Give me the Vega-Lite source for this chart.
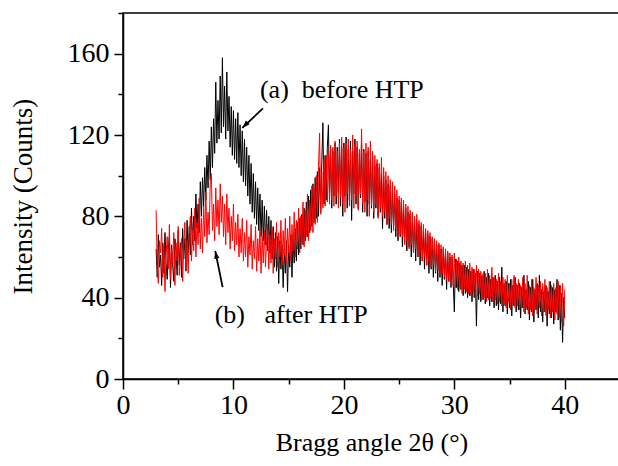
{
  "$schema": "https://vega.github.io/schema/vega-lite/v6.json",
  "width": 497,
  "height": 366,
  "autosize": {"type": "none"},
  "padding": {"left": 123, "top": 13, "right": 0, "bottom": 87},
  "background": "white",
  "config": {
    "view": {"stroke": "black", "strokeWidth": 1.5},
    "font": "Liberation Serif",
    "axis": {
      "grid": false,
      "domainColor": "black",
      "domainWidth": 1.5,
      "tickColor": "black",
      "tickWidth": 1.5,
      "labelFont": "Liberation Serif",
      "labelFontSize": 28,
      "labelColor": "black",
      "titleFont": "Liberation Serif",
      "titleFontSize": 26,
      "titleFontWeight": "normal",
      "titleColor": "black",
      "labelOverlap": false,
      "labelFlush": false
    }
  },
  "datasets": {
    "xrd": [
      {"x":3.0,"a":64,"b":83},{"x":3.1,"a":50,"b":55},{"x":3.2,"a":71,"b":47},{"x":3.3,"a":55,"b":68},{"x":3.4,"a":61,"b":62},{"x":3.5,"a":46,"b":74},{"x":3.6,"a":67,"b":50},{"x":3.7,"a":52,"b":66},{"x":3.8,"a":72,"b":43},{"x":3.9,"a":57,"b":61},
      {"x":4.0,"a":49,"b":70},{"x":4.1,"a":64,"b":54},{"x":4.2,"a":70,"b":76},{"x":4.3,"a":45,"b":49},{"x":4.4,"a":66,"b":64},{"x":4.5,"a":56,"b":57},{"x":4.6,"a":48,"b":72},{"x":4.7,"a":69,"b":46},{"x":4.8,"a":63,"b":67},{"x":4.9,"a":51,"b":58},
      {"x":5.0,"a":73,"b":75},{"x":5.1,"a":56,"b":51},{"x":5.2,"a":67,"b":63},{"x":5.3,"a":50,"b":69},{"x":5.4,"a":74,"b":48},{"x":5.5,"a":59,"b":65},{"x":5.6,"a":69,"b":77},{"x":5.7,"a":53,"b":54},{"x":5.8,"a":78,"b":68},{"x":5.9,"a":62,"b":52},
      {"x":6.0,"a":75,"b":71},{"x":6.1,"a":61,"b":80},{"x":6.2,"a":84,"b":58},{"x":6.3,"a":66,"b":73},{"x":6.4,"a":80,"b":63},{"x":6.5,"a":68,"b":84},{"x":6.6,"a":91,"b":60},{"x":6.7,"a":74,"b":77},{"x":6.8,"a":86,"b":66},{"x":6.9,"a":72,"b":89},
      {"x":7.0,"a":97,"b":64},{"x":7.1,"a":80,"b":79},{"x":7.2,"a":99,"b":62},{"x":7.3,"a":85,"b":85},{"x":7.4,"a":104,"b":70},{"x":7.5,"a":88,"b":92},{"x":7.6,"a":110,"b":67},{"x":7.7,"a":94,"b":82},{"x":7.8,"a":117,"b":71},{"x":7.9,"a":98,"b":97},
      {"x":8.0,"a":124,"b":101},{"x":8.1,"a":104,"b":73},{"x":8.2,"a":128,"b":86},{"x":8.3,"a":111,"b":68},{"x":8.4,"a":146,"b":94},{"x":8.5,"a":116,"b":75},{"x":8.6,"a":137,"b":88},{"x":8.7,"a":118,"b":71},{"x":8.8,"a":149,"b":96},{"x":8.9,"a":121,"b":77},
      {"x":9.0,"a":158,"b":90},{"x":9.1,"a":124,"b":70},{"x":9.2,"a":144,"b":86},{"x":9.3,"a":118,"b":66},{"x":9.4,"a":151,"b":91},{"x":9.5,"a":122,"b":72},{"x":9.6,"a":139,"b":84},{"x":9.7,"a":114,"b":64},{"x":9.8,"a":134,"b":80},{"x":9.9,"a":110,"b":68},
      {"x":10.0,"a":132,"b":86},{"x":10.1,"a":108,"b":63},{"x":10.2,"a":128,"b":77},{"x":10.3,"a":106,"b":66},{"x":10.4,"a":131,"b":81},{"x":10.5,"a":104,"b":60},{"x":10.6,"a":125,"b":74},{"x":10.7,"a":100,"b":62},{"x":10.8,"a":122,"b":79},{"x":10.9,"a":97,"b":58},
      {"x":11.0,"a":118,"b":72},{"x":11.1,"a":95,"b":60},{"x":11.2,"a":114,"b":78},{"x":11.3,"a":90,"b":55},{"x":11.4,"a":110,"b":70},{"x":11.5,"a":86,"b":61},{"x":11.6,"a":106,"b":76},{"x":11.7,"a":82,"b":54},{"x":11.8,"a":101,"b":68},{"x":11.9,"a":79,"b":59},
      {"x":12.0,"a":97,"b":75},{"x":12.1,"a":76,"b":53},{"x":12.2,"a":94,"b":69},{"x":12.3,"a":73,"b":58},{"x":12.4,"a":91,"b":74},{"x":12.5,"a":70,"b":52},{"x":12.6,"a":88,"b":70},{"x":12.7,"a":68,"b":57},{"x":12.8,"a":85,"b":73},{"x":12.9,"a":66,"b":55},
      {"x":13.0,"a":83,"b":68},{"x":13.1,"a":63,"b":76},{"x":13.2,"a":80,"b":54},{"x":13.3,"a":62,"b":71},{"x":13.4,"a":78,"b":57},{"x":13.5,"a":59,"b":74},{"x":13.6,"a":75,"b":52},{"x":13.7,"a":55,"b":69},{"x":13.8,"a":72,"b":59},{"x":13.9,"a":53,"b":77},
      {"x":14.0,"a":70,"b":55},{"x":14.1,"a":47,"b":72},{"x":14.2,"a":68,"b":60},{"x":14.3,"a":54,"b":78},{"x":14.4,"a":66,"b":56},{"x":14.5,"a":45,"b":73},{"x":14.6,"a":64,"b":61},{"x":14.7,"a":52,"b":79},{"x":14.8,"a":68,"b":57},{"x":14.9,"a":43,"b":74},
      {"x":15.0,"a":66,"b":62},{"x":15.1,"a":55,"b":80},{"x":15.2,"a":71,"b":58},{"x":15.3,"a":50,"b":76},{"x":15.4,"a":69,"b":63},{"x":15.5,"a":57,"b":82},{"x":15.6,"a":74,"b":60},{"x":15.7,"a":58,"b":78},{"x":15.8,"a":77,"b":64},{"x":15.9,"a":61,"b":84},
      {"x":16.0,"a":79,"b":62},{"x":16.1,"a":64,"b":80},{"x":16.2,"a":81,"b":67},{"x":16.3,"a":66,"b":87},{"x":16.4,"a":84,"b":65},{"x":16.5,"a":68,"b":83},{"x":16.6,"a":87,"b":70},{"x":16.7,"a":70,"b":91},{"x":16.8,"a":90,"b":68},{"x":16.9,"a":72,"b":88},
      {"x":17.0,"a":93,"b":73},{"x":17.1,"a":75,"b":95},{"x":17.2,"a":96,"b":72},{"x":17.3,"a":77,"b":94},{"x":17.4,"a":99,"b":76},{"x":17.5,"a":79,"b":100},{"x":17.6,"a":102,"b":77},{"x":17.7,"a":80,"b":104},{"x":17.8,"a":104,"b":121},{"x":17.9,"a":82,"b":81},
      {"x":18.0,"a":107,"b":102},{"x":18.1,"a":126,"b":84},{"x":18.2,"a":86,"b":108},{"x":18.3,"a":110,"b":85},{"x":18.4,"a":88,"b":110},{"x":18.5,"a":114,"b":87},{"x":18.6,"a":125,"b":112},{"x":18.7,"a":89,"b":86},{"x":18.8,"a":113,"b":115},{"x":18.9,"a":84,"b":88},
      {"x":19.0,"a":112,"b":114},{"x":19.1,"a":90,"b":85},{"x":19.2,"a":116,"b":117},{"x":19.3,"a":86,"b":90},{"x":19.4,"a":114,"b":112},{"x":19.5,"a":92,"b":84},{"x":19.6,"a":118,"b":116},{"x":19.7,"a":85,"b":89},{"x":19.8,"a":114,"b":119},{"x":19.9,"a":80,"b":86},
      {"x":20.0,"a":116,"b":114},{"x":20.1,"a":90,"b":82},{"x":20.2,"a":119,"b":116},{"x":20.3,"a":84,"b":91},{"x":20.4,"a":113,"b":118},{"x":20.5,"a":88,"b":85},{"x":20.6,"a":117,"b":113},{"x":20.7,"a":78,"b":88},{"x":20.8,"a":112,"b":120},{"x":20.9,"a":91,"b":84},
      {"x":21.0,"a":118,"b":115},{"x":21.1,"a":86,"b":90},{"x":21.2,"a":114,"b":117},{"x":21.3,"a":84,"b":83},{"x":21.4,"a":111,"b":113},{"x":21.5,"a":89,"b":91},{"x":21.6,"a":116,"b":123},{"x":21.7,"a":82,"b":86},{"x":21.8,"a":113,"b":112},{"x":21.9,"a":87,"b":82},
      {"x":22.0,"a":111,"b":116},{"x":22.1,"a":80,"b":88},{"x":22.2,"a":112,"b":114},{"x":22.3,"a":86,"b":80},{"x":22.4,"a":108,"b":117},{"x":22.5,"a":84,"b":85},{"x":22.6,"a":110,"b":112},{"x":22.7,"a":79,"b":82},{"x":22.8,"a":105,"b":110},{"x":22.9,"a":84,"b":86},
      {"x":23.0,"a":106,"b":108},{"x":23.1,"a":80,"b":79},{"x":23.2,"a":104,"b":106},{"x":23.3,"a":82,"b":84},{"x":23.4,"a":101,"b":109},{"x":23.5,"a":74,"b":80},{"x":23.6,"a":100,"b":104},{"x":23.7,"a":79,"b":82},{"x":23.8,"a":98,"b":102},{"x":23.9,"a":76,"b":76},
      {"x":24.0,"a":96,"b":100},{"x":24.1,"a":74,"b":79},{"x":24.2,"a":95,"b":98},{"x":24.3,"a":72,"b":76},{"x":24.4,"a":93,"b":97},{"x":24.5,"a":75,"b":73},{"x":24.6,"a":91,"b":95},{"x":24.7,"a":70,"b":74},{"x":24.8,"a":89,"b":93},{"x":24.9,"a":68,"b":70},
      {"x":25.0,"a":88,"b":90},{"x":25.1,"a":70,"b":71},{"x":25.2,"a":87,"b":89},{"x":25.3,"a":65,"b":70},{"x":25.4,"a":85,"b":88},{"x":25.5,"a":67,"b":66},{"x":25.6,"a":84,"b":86},{"x":25.7,"a":63,"b":68},{"x":25.8,"a":82,"b":85},{"x":25.9,"a":65,"b":64},
      {"x":26.0,"a":81,"b":83},{"x":26.1,"a":60,"b":66},{"x":26.2,"a":80,"b":82},{"x":26.3,"a":62,"b":62},{"x":26.4,"a":78,"b":80},{"x":26.5,"a":58,"b":64},{"x":26.6,"a":77,"b":81},{"x":26.7,"a":60,"b":60},{"x":26.8,"a":76,"b":78},{"x":26.9,"a":56,"b":62},
      {"x":27.0,"a":75,"b":77},{"x":27.1,"a":58,"b":58},{"x":27.2,"a":73,"b":76},{"x":27.3,"a":54,"b":60},{"x":27.4,"a":72,"b":74},{"x":27.5,"a":56,"b":56},{"x":27.6,"a":71,"b":73},{"x":27.7,"a":52,"b":58},{"x":27.8,"a":70,"b":72},{"x":27.9,"a":54,"b":55},
      {"x":28.0,"a":69,"b":70},{"x":28.1,"a":50,"b":56},{"x":28.2,"a":68,"b":69},{"x":28.3,"a":52,"b":53},{"x":28.4,"a":66,"b":68},{"x":28.5,"a":48,"b":54},{"x":28.6,"a":66,"b":67},{"x":28.7,"a":50,"b":51},{"x":28.8,"a":64,"b":66},{"x":28.9,"a":46,"b":52},
      {"x":29.0,"a":64,"b":65},{"x":29.1,"a":49,"b":50},{"x":29.2,"a":62,"b":64},{"x":29.3,"a":44,"b":49},{"x":29.4,"a":62,"b":63},{"x":29.5,"a":48,"b":48},{"x":29.6,"a":60,"b":62},{"x":29.7,"a":45,"b":47},{"x":29.8,"a":60,"b":61},{"x":29.9,"a":47,"b":46},
      {"x":30.0,"a":33,"b":62},{"x":30.1,"a":59,"b":45},{"x":30.2,"a":45,"b":59},{"x":30.3,"a":58,"b":44},{"x":30.4,"a":43,"b":60},{"x":30.5,"a":57,"b":45},{"x":30.6,"a":44,"b":58},{"x":30.7,"a":56,"b":42},{"x":30.8,"a":41,"b":57},{"x":30.9,"a":56,"b":44},
      {"x":31.0,"a":42,"b":58},{"x":31.1,"a":55,"b":43},{"x":31.2,"a":40,"b":56},{"x":31.3,"a":54,"b":42},{"x":31.4,"a":41,"b":57},{"x":31.5,"a":53,"b":41},{"x":31.6,"a":38,"b":55},{"x":31.7,"a":54,"b":43},{"x":31.8,"a":40,"b":54},{"x":31.9,"a":52,"b":40},
      {"x":32.0,"a":26,"b":56},{"x":32.1,"a":53,"b":41},{"x":32.2,"a":39,"b":54},{"x":32.3,"a":52,"b":42},{"x":32.4,"a":38,"b":53},{"x":32.5,"a":51,"b":39},{"x":32.6,"a":39,"b":52},{"x":32.7,"a":53,"b":40},{"x":32.8,"a":37,"b":52},{"x":32.9,"a":50,"b":38},
      {"x":33.0,"a":40,"b":54},{"x":33.1,"a":52,"b":39},{"x":33.2,"a":36,"b":51},{"x":33.3,"a":49,"b":40},{"x":33.4,"a":38,"b":55},{"x":33.5,"a":50,"b":38},{"x":33.6,"a":35,"b":50},{"x":33.7,"a":51,"b":39},{"x":33.8,"a":36,"b":49},{"x":33.9,"a":48,"b":37},
      {"x":34.0,"a":34,"b":52},{"x":34.1,"a":50,"b":38},{"x":34.2,"a":37,"b":48},{"x":34.3,"a":55,"b":36},{"x":34.4,"a":33,"b":50},{"x":34.5,"a":47,"b":37},{"x":34.6,"a":36,"b":49},{"x":34.7,"a":48,"b":35},{"x":34.8,"a":32,"b":51},{"x":34.9,"a":47,"b":38},
      {"x":35.0,"a":35,"b":47},{"x":35.1,"a":49,"b":34},{"x":35.2,"a":31,"b":49},{"x":35.3,"a":46,"b":37},{"x":35.4,"a":36,"b":51},{"x":35.5,"a":50,"b":35},{"x":35.6,"a":33,"b":47},{"x":35.7,"a":46,"b":36},{"x":35.8,"a":34,"b":49},{"x":35.9,"a":47,"b":34},
      {"x":36.0,"a":30,"b":46},{"x":36.1,"a":45,"b":35},{"x":36.2,"a":35,"b":50},{"x":36.3,"a":51,"b":33},{"x":36.4,"a":32,"b":47},{"x":36.5,"a":44,"b":35},{"x":36.6,"a":34,"b":51},{"x":36.7,"a":48,"b":32},{"x":36.8,"a":29,"b":46},{"x":36.9,"a":45,"b":34},
      {"x":37.0,"a":33,"b":49},{"x":37.1,"a":49,"b":31},{"x":37.2,"a":28,"b":45},{"x":37.3,"a":44,"b":34},{"x":37.4,"a":34,"b":50},{"x":37.5,"a":47,"b":32},{"x":37.6,"a":30,"b":46},{"x":37.7,"a":51,"b":35},{"x":37.8,"a":33,"b":48},{"x":37.9,"a":44,"b":31},
      {"x":38.0,"a":28,"b":47},{"x":38.1,"a":43,"b":33},{"x":38.2,"a":33,"b":49},{"x":38.3,"a":46,"b":31},{"x":38.4,"a":26,"b":45},{"x":38.5,"a":43,"b":34},{"x":38.6,"a":32,"b":48},{"x":38.7,"a":48,"b":30},{"x":38.8,"a":30,"b":46},{"x":38.9,"a":45,"b":33},
      {"x":39.0,"a":27,"b":47},{"x":39.1,"a":44,"b":29},{"x":39.2,"a":33,"b":45},{"x":39.3,"a":49,"b":32},{"x":39.4,"a":29,"b":48},{"x":39.5,"a":46,"b":30},{"x":39.6,"a":24,"b":46},{"x":39.7,"a":42,"b":28},{"x":39.8,"a":18,"b":47},{"x":39.9,"a":40,"b":26},
      {"x":40.0,"a":30,"b":44}
    ],
    "labels": [
      {"x": 12.4, "y": 138, "text": "(a)\u00a0 before HTP"},
      {"x": 8.3, "y": 27.5, "text": "(b)\u00a0\u00a0 after HTP"}
    ],
    "arrowA": [{"x": 12.67, "y": 133.1, "x2": 10.8, "y2": 123.5}],
    "arrowB": [{"x": 9.02, "y": 45.2, "x2": 8.35, "y2": 63.0}]
  },
  "layer": [
    {
      "data": {"name": "xrd"},
      "mark": {"type": "line", "color": "black", "strokeWidth": 1},
      "encoding": {
        "x": {
          "field": "x", "type": "quantitative",
          "scale": {"domain": [0, 45], "nice": false, "zero": false},
          "axis": {
            "values": [0, 5, 10, 15, 20, 25, 30, 35, 40, 45],
            "labelExpr": "datum.value % 10 === 0 ? datum.label : ''",
            "tickSize": {"condition": {"test": "datum.value % 10 !== 0", "value": 5}, "value": 10},
            "labelPadding": 2,
            "title": "Bragg angle 2θ (°)",
            "titlePadding": 10
          }
        },
        "y": {
          "field": "a", "type": "quantitative",
          "scale": {"domain": [0, 180], "nice": false, "zero": false},
          "axis": {
            "values": [0, 20, 40, 60, 80, 100, 120, 140, 160, 180],
            "labelExpr": "datum.value % 40 === 0 ? datum.label : ''",
            "tickSize": {"condition": {"test": "datum.value % 40 !== 0", "value": 5}, "value": 9},
            "labelPadding": 5,
            "title": "Intensity (Counts)",
            "titleFontSize": 27,
            "titlePadding": 30
          }
        }
      }
    },
    {
      "data": {"name": "xrd"},
      "mark": {"type": "line", "color": "#ff0000", "strokeWidth": 1},
      "encoding": {
        "x": {"field": "x", "type": "quantitative"},
        "y": {"field": "b", "type": "quantitative"}
      }
    },
    {
      "data": {"name": "labels"},
      "mark": {"type": "text", "align": "left", "baseline": "alphabetic", "font": "Liberation Serif", "fontSize": 26, "color": "black"},
      "encoding": {
        "x": {"field": "x", "type": "quantitative"},
        "y": {"field": "y", "type": "quantitative"},
        "text": {"field": "text"}
      }
    },
    {
      "data": {"name": "arrowA"},
      "mark": {"type": "rule", "color": "black", "strokeWidth": 1.8},
      "encoding": {
        "x": {"field": "x", "type": "quantitative"},
        "y": {"field": "y", "type": "quantitative"},
        "x2": {"field": "x2"},
        "y2": {"field": "y2"}
      }
    },
    {
      "data": {"name": "arrowA"},
      "mark": {"type": "point", "shape": "M0,0L0.75,2.2L-0.75,2.2Z", "size": 50, "filled": true, "color": "black", "opacity": 1, "angle": 225},
      "encoding": {
        "x": {"field": "x2", "type": "quantitative"},
        "y": {"field": "y2", "type": "quantitative"}
      }
    },
    {
      "data": {"name": "arrowB"},
      "mark": {"type": "rule", "color": "black", "strokeWidth": 1.8},
      "encoding": {
        "x": {"field": "x", "type": "quantitative"},
        "y": {"field": "y", "type": "quantitative"},
        "x2": {"field": "x2"},
        "y2": {"field": "y2"}
      }
    },
    {
      "data": {"name": "arrowB"},
      "mark": {"type": "point", "shape": "M0,0L0.75,2.2L-0.75,2.2Z", "size": 50, "filled": true, "color": "black", "opacity": 1, "angle": 348},
      "encoding": {
        "x": {"field": "x2", "type": "quantitative"},
        "y": {"field": "y2", "type": "quantitative"}
      }
    }
  ]
}
